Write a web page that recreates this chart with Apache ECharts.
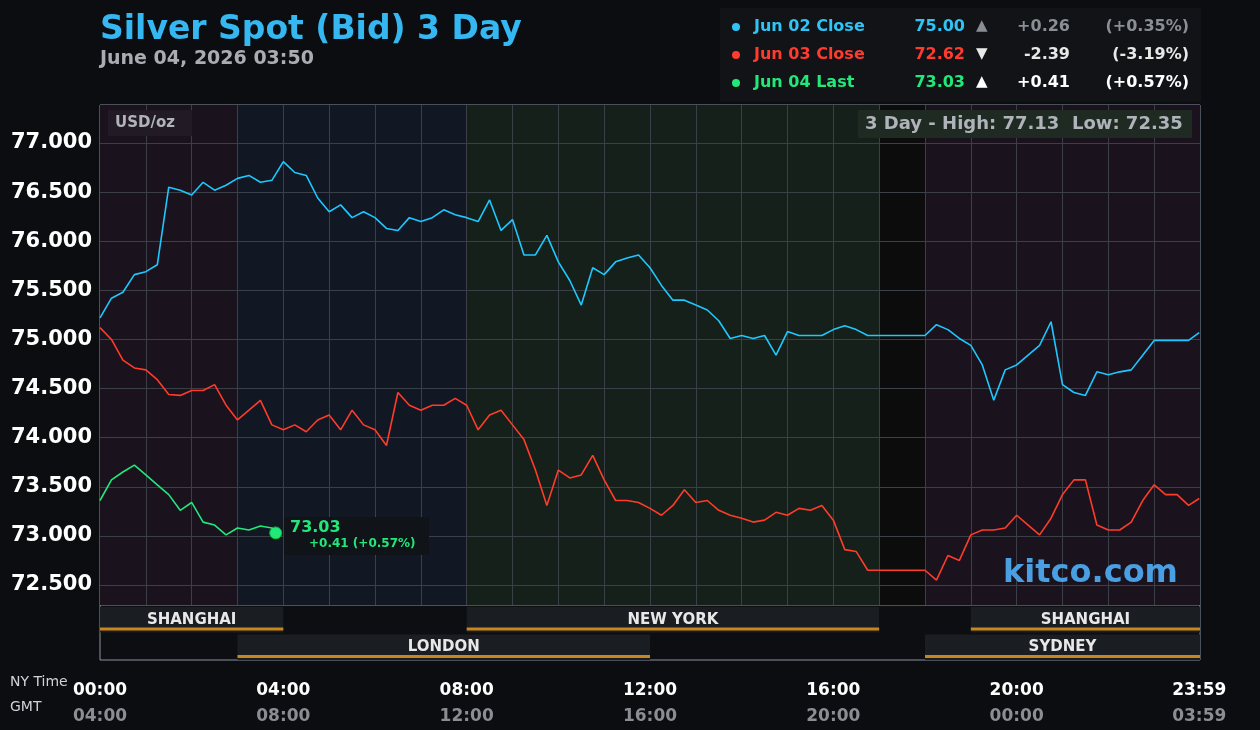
<!DOCTYPE html>
<html><head><meta charset="utf-8">
<script src="https://cdn.jsdelivr.net/npm/echarts@6/dist/echarts.min.js"></script>
<style>html,body{margin:0;background:#0b0d10}#c{width:1260px;height:730px}</style>
</head><body><div id="c"></div>
<script>
// 15-minute samples, minute 0..1439
const blueVals=[75.22,75.42,75.48,75.66,75.69,75.76,76.55,76.52,76.47,76.60,76.52,76.57,76.64,76.67,76.60,76.62,76.81,76.70,76.67,76.44,76.30,76.37,76.24,76.30,76.24,76.13,76.11,76.24,76.20,76.24,76.32,76.27,76.24,76.20,76.42,76.11,76.22,75.86,75.86,76.06,75.79,75.60,75.35,75.73,75.66,75.79,75.83,75.86,75.73,75.55,75.40,75.40,75.35,75.30,75.19,75.01,75.04,75.01,75.04,74.84,75.08,75.04,75.04,75.04,75.10,75.14,75.10,75.04,75.04,75.04,75.04,75.04,75.04,75.15,75.10,75.01,74.94,74.74,74.38,74.69,74.74,74.84,74.94,75.18,74.54,74.46,74.43,74.67,74.64,74.67,74.69,74.84,74.99,74.99,74.99,74.99,75.07];
const redVals=[75.12,75.00,74.79,74.71,74.69,74.59,74.44,74.43,74.48,74.48,74.54,74.33,74.18,74.28,74.38,74.13,74.08,74.13,74.06,74.18,74.23,74.08,74.28,74.13,74.08,73.92,74.46,74.33,74.28,74.33,74.33,74.40,74.33,74.08,74.23,74.28,74.13,73.98,73.67,73.31,73.67,73.59,73.62,73.82,73.57,73.36,73.36,73.34,73.28,73.21,73.31,73.47,73.34,73.36,73.26,73.21,73.18,73.14,73.16,73.24,73.21,73.28,73.26,73.31,73.16,72.86,72.84,72.65,72.65,72.65,72.65,72.65,72.65,72.55,72.80,72.75,73.01,73.06,73.06,73.08,73.21,73.11,73.01,73.18,73.42,73.57,73.57,73.11,73.06,73.06,73.14,73.36,73.52,73.42,73.42,73.31,73.38];
const greenVals=[73.36,73.57,73.65,73.72,73.62,73.52,73.42,73.26,73.34,73.14,73.11,73.01,73.08,73.06,73.10,73.08,73.03];
const greenMinutes=[0,15,30,45,60,75,90,105,120,135,150,165,180,195,210,225,230];
const yTicks=[72.5,73,73.5,74,74.5,75,75.5,76,76.5,77];
const xTicks=[0,240,480,720,960,1200,1439];
const nyLabels={0:'00:00',240:'04:00',480:'08:00',720:'12:00',960:'16:00',1200:'20:00',1439:'23:59'};
const gmtLabels={0:'04:00',240:'08:00',480:'12:00',720:'16:00',960:'20:00',1200:'00:00',1439:'03:59'};
const bands=[[0,180,'#1a121d'],[180,480,'#111723'],[480,1020,'#15201a'],[1020,1080,'#0c0c0d'],[1080,1440,'#1a121d']];
const sessions=[[0,240,0,'SHANGHAI'],[480,1020,0,'NEW YORK'],[1140,1440,0,'SHANGHAI'],[180,720,1,'LONDON'],[1080,1440,1,'SYDNEY']];
const legendRows=[
 ['Jun 02 Close','75.00','▲','+0.26','(+0.35%)','#2ec4f5','#8a8f96'],
 ['Jun 03 Close','72.62','▼','-2.39','(-3.19%)','#ff3b30','#e8e8e8'],
 ['Jun 04 Last','73.03','▲','+0.41','(+0.57%)','#22e87a','#ffffff']];

const ser=(vals)=>vals.map((v,i)=>[Math.min(i*15,1439),v]);
const chart=echarts.init(document.getElementById('c'));
const F='DejaVu Sans';
const graphics=[
 {type:'text',left:100,top:14,style:{text:'Silver Spot (Bid) 3 Day',fill:'#35b8f2',font:'bold 33px '+F}},
 {type:'text',left:100,top:50,style:{text:'June 04, 2026 03:50',fill:'#a9adb3',font:'bold 19px '+F}},
 {type:'rect',shape:{x:720,y:8,width:481,height:94},style:{fill:'#111317'}},
 {type:'text',left:10,top:675,style:{text:'NY Time',fill:'#cfd3d8',font:'14px '+F}},
 {type:'text',left:10,top:700,style:{text:'GMT',fill:'#cfd3d8',font:'14px '+F}},
 {type:'rect',shape:{x:108,y:110,width:84,height:26},style:{fill:'#221a24'}},
 {type:'text',left:115,top:116,style:{text:'USD/oz',fill:'#b0b4ba',font:'bold 15px '+F}},
 {type:'rect',shape:{x:858,y:110,width:334,height:28},style:{fill:'#1e2a22'}},
 {type:'text',left:865,top:115,style:{text:'3 Day - High: 77.13  Low: 72.35',fill:'#b0b4ba',font:'bold 18px '+F}},
 {type:'text',left:1003,top:558,style:{text:'kitco.com',fill:'#4a9fe3',font:'bold 32px '+F}},
 {type:'rect',shape:{x:284,y:517,width:145,height:38},style:{fill:'#101318'}},
 {type:'text',left:290,top:520,style:{text:'73.03',fill:'#22e87a',font:'bold 16px '+F}},
 {type:'text',left:309,top:538,style:{text:'+0.41 (+0.57%)',fill:'#22e87a',font:'bold 12px '+F}}
];
legendRows.forEach((r,i)=>{
 const y=19+i*28;
 graphics.push({type:'circle',shape:{cx:736,cy:y+8,r:4},style:{fill:r[5]}});
 graphics.push({type:'text',left:754,top:y,style:{text:r[0],fill:r[5],font:'bold 16px '+F}});
 graphics.push({type:'text',right:1260-965,top:y,style:{text:r[1],fill:r[5],font:'bold 16px '+F,align:'right'}});
 graphics.push({type:'text',left:976,top:y,style:{text:r[2],fill:r[6],font:'bold 15px '+F}});
 graphics.push({type:'text',right:1260-1070,top:y,style:{text:r[3],fill:r[6],font:'bold 16px '+F,align:'right'}});
 graphics.push({type:'text',right:1260-1189,top:y,style:{text:r[4],fill:r[6],font:'bold 16px '+F,align:'right'}});
});
graphics.forEach(g=>{g.z=100;});
const vLines=[];for(let h=1;h<24;h++)vLines.push({xAxis:h*60});
const hLines=yTicks.map(v=>({yAxis:v}));
chart.setOption({
 animation:false,backgroundColor:'#0b0d10',
 graphic:graphics,
 grid:[{left:100,top:105,width:1100,height:500,show:true,borderColor:'#8a93a3',borderWidth:1,backgroundColor:'transparent'},
       {left:100,top:605,width:1100,height:55,show:true,borderColor:'#8a93a3',borderWidth:1,backgroundColor:'#0c0e11'}],
 xAxis:[{type:'value',gridIndex:0,min:0,max:1440,axisLine:{show:false},axisTick:{show:false},axisLabel:{show:false},splitLine:{show:false}},
  {type:'value',gridIndex:1,min:0,max:1440,axisLine:{show:false},axisTick:{show:false},splitLine:{show:false},
   axisLabel:{customValues:xTicks,margin:18,formatter:v=>'{a|'+nyLabels[v]+'}\n{b|'+gmtLabels[v]+'}',
    rich:{a:{color:'#ffffff',fontSize:17,fontWeight:'bold',fontFamily:F,lineHeight:26},b:{color:'#8a8d92',fontSize:17,fontWeight:'bold',fontFamily:F,lineHeight:26}}}}],
 yAxis:[{type:'value',gridIndex:0,min:72.296,max:77.387,splitLine:{show:false},axisLine:{show:false},axisTick:{show:false},
   axisLabel:{customValues:yTicks,formatter:v=>v.toFixed(3),color:'#ffffff',fontSize:21,fontWeight:'bold',fontFamily:F,margin:8}},
  {type:'value',gridIndex:1,min:0,max:2,inverse:true,show:false}],
 series:[
  {type:'line',xAxisIndex:0,yAxisIndex:0,data:[],silent:true,
   markArea:{silent:true,data:bands.map(b=>[{xAxis:b[0],itemStyle:{color:b[2]}},{xAxis:b[1]}])},
   markLine:{silent:true,symbol:'none',label:{show:false},lineStyle:{color:'#3a3f48',width:1,type:'solid'},data:vLines.concat(hLines)}},
  {type:'line',xAxisIndex:0,yAxisIndex:0,data:ser(blueVals),showSymbol:false,lineStyle:{color:'#1ec8ff',width:1.6},z:5},
  {type:'line',xAxisIndex:0,yAxisIndex:0,data:ser(redVals),showSymbol:false,lineStyle:{color:'#ff3b2a',width:1.6},z:5},
  {type:'line',xAxisIndex:0,yAxisIndex:0,data:greenMinutes.map((m,i)=>[m,greenVals[i]]),showSymbol:false,lineStyle:{color:'#22e87a',width:1.6},z:6,
   markPoint:{symbol:'circle',symbolSize:12,itemStyle:{color:'#22e87a',borderColor:'#0b3',borderWidth:1},label:{show:false},data:[{coord:[230,73.03]}]}},
  {type:'custom',xAxisIndex:1,yAxisIndex:1,data:sessions,
   renderItem:(p,api)=>{
    const s=api.value(0),e=api.value(1),r=api.value(2);
    const a=api.coord([s,r]),b=api.coord([e,r+1]);
    const name=sessions[p.dataIndex][3];
    return {type:'group',children:[
     {type:'rect',shape:{x:a[0],y:a[1]+2,width:b[0]-a[0],height:b[1]-a[1]-2},style:{fill:'#1a1d22'}},
     {type:'rect',shape:{x:a[0],y:b[1]-5,width:b[0]-a[0],height:3},style:{fill:'#c8861e'}},
     {type:'text',style:{text:name,x:(a[0]+b[0])/2,y:(a[1]+b[1])/2+1,align:'center',verticalAlign:'middle',fill:'#e8e8e8',font:'bold 15px '+F}}]};
   }}
 ]
});
</script></body></html>
